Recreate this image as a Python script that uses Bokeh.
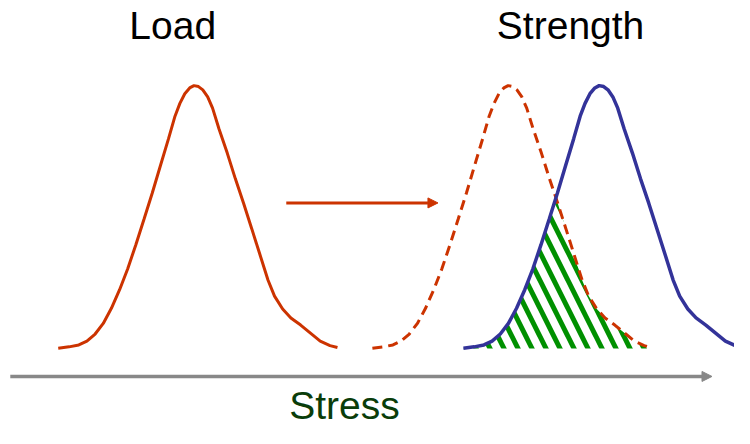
import numpy as np
from bokeh.plotting import figure
from bokeh.models import Range1d, Arrow, NormalHead
from bokeh.core.properties import value
from bokeh.embed import file_html
from bokeh.resources import INLINE

# ---- data (stress along x, distribution height above baseline) ----
load_x = [59.0, 70.0, 80.0, 88.3, 96.7, 105.0, 113.3, 121.7, 130.0, 138.3, 146.7,
          155.0, 163.3, 171.7, 178.3, 183.3, 188.3, 193.3, 197.7, 202.3, 206.7,
          211.7, 216.7, 223.3, 231.7, 240.0, 248.3, 256.7, 265.0, 273.3, 280.0,
          288.3, 296.7, 306.7, 316.7, 326.7, 336.7, 344.3]
load_y = [0.3, 1.7, 3.7, 7.7, 15.0, 26.0, 41.7, 61.0, 82.7, 107.7, 134.3,
          161.0, 189.3, 217.7, 241.0, 254.3, 264.3, 270.3, 272.7, 271.7, 268.3,
          261.0, 249.3, 227.7, 202.7, 176.0, 151.0, 124.3, 97.7, 71.0, 54.3,
          41.0, 31.7, 24.3, 16.0, 7.7, 3.0, 1.0]
shifted_load_offset = 321      # dashed copy of the load curve
strength_offset = 414          # strength curve (same shape)

shift_arrow_x = [292, 447]
shift_arrow_y = [151, 151]
stress_axis_x = [10, 727]
stress_axis_y = [-29, -29]

title_labels = ["Load", "Strength"]
title_x = [176, 582.5]
title_y = [335, 335]
axis_label = ["Stress"]
axis_label_x = [351.5]
axis_label_y = [-59]

RED = "#CC3300"
BLUE = "#333399"
GREEN = "#009000"
GRAY = "#888888"
DARKGREEN = "#0A3D0A"

shifted_x = [x + shifted_load_offset for x in load_x]
strength_x = [x + strength_offset for x in load_x]

p = figure(width=734, height=428, output_backend="svg", toolbar_location=None,
           x_range=Range1d(0, 750), y_range=Range1d(-83, 361),
           x_axis_location=None, y_axis_location=None, min_border=0,
           outline_line_color=None, background_fill_color="white")
p.grid.visible = False

# overlap (interference) region
xs = np.linspace(strength_x[0], shifted_x[-1], 300)
ys = np.minimum(np.interp(xs, strength_x, load_y), np.interp(xs, shifted_x, load_y))
p.patch(list(xs) + [xs[-1], xs[0]], list(ys) + [0, 0],
        fill_color="white", line_color=None,
        hatch_pattern="\\", hatch_color=GREEN, hatch_weight=5, hatch_scale=28)

p.line(load_x, load_y, line_color=RED, line_width=3)
p.line(shifted_x, load_y, line_color=RED, line_width=3, line_dash="10 6")
p.line(strength_x, load_y, line_color=BLUE, line_width=3.5)

p.add_layout(Arrow(x_start=shift_arrow_x[0], y_start=shift_arrow_y[0],
                   x_end=shift_arrow_x[1], y_end=shift_arrow_y[1],
                   line_color=RED, line_width=3,
                   end=NormalHead(size=10, fill_color=RED, line_color=RED, line_width=1)))
p.add_layout(Arrow(x_start=stress_axis_x[0], y_start=stress_axis_y[0],
                   x_end=stress_axis_x[1], y_end=stress_axis_y[1],
                   line_color=GRAY, line_width=3.5,
                   end=NormalHead(size=10, fill_color=GRAY, line_color=GRAY, line_width=1)))

p.text(x=title_x, y=title_y, text=title_labels, text_align="center",
       text_baseline="middle", text_font=value("Liberation Sans"),
       text_font_size="39px", text_color="black")
p.text(x=axis_label_x, y=axis_label_y, text=axis_label, text_align="center",
       text_baseline="middle", text_font=value("Liberation Sans"),
       text_font_size="39px", text_color=DARKGREEN)

open("out.html", "w").write(file_html(p, INLINE))
